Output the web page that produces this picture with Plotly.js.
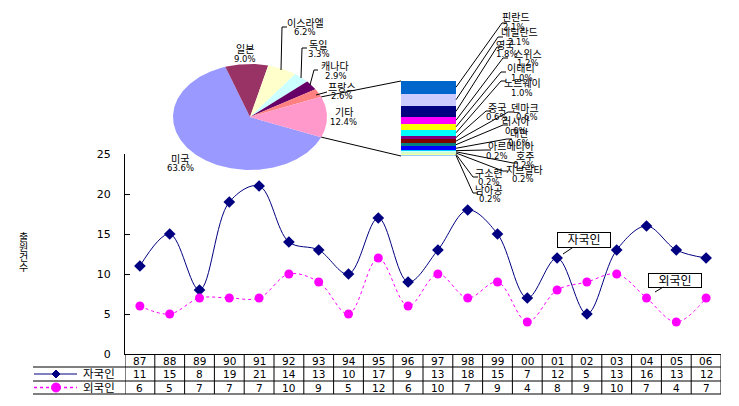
<!DOCTYPE html>
<html><head><meta charset="utf-8">
<script src="https://cdn.plot.ly/plotly-3.0.1.min.js"></script>
<style>html,body{margin:0;padding:0;background:#fff}#chart{width:739px;height:406px}</style>
</head><body><div id="chart"></div>
<script>
// ---- data ----
const years = ['87','88','89','90','91','92','93','94','95','96','97','98','99','00','01','02','03','04','05','06'];
const domestic = [11,15,8,19,21,14,13,10,17,9,13,18,15,7,12,5,13,16,13,12];
const foreign = [6,5,7,7,7,10,9,5,12,6,10,7,9,4,8,9,10,7,4,7];
const seriesNames = ['자국인','외국인'];
const yTitleChars = ['출','원','건','수'];

const pieLabels = ['미국','일본','이스라엘','독일','캐나다','프랑스','기타'];
const pieValues = [63.6,9.0,6.2,3.3,2.9,2.6,12.4];
const pieColors = ['#9999FF','#993366','#FFFFCC','#CCFFFF','#660066','#FF8080','#FF99CC'];

const barLabels = ['핀란드','네덜란드','영국','스위스','이태리','노르웨이','중국','덴마크','러시아','대만','아르메니아','호주','지브랄타','구소련','남아공'];
const barValues = [2.1,2.1,1.8,1.2,1.0,1.0,0.6,0.6,0.6,0.6,0.2,0.2,0.2,0.2,0.2];
const barColors = ['#0066CC','#CCCCFF','#000080','#FF00FF','#FFFF00','#00FFFF','#800080','#800000','#008080','#0000FF','#00CCFF','#CCFFFF','#CCFFCC','#FFFF99','#99CCFF'];

// ---- layout constants (pixels) ----
const W = 739, H = 406;
const px = x => x / W, py = y => 1 - y / H;
const FONT = 'DejaVu Sans, Noto Sans CJK KR, sans-serif';
const PIE = {cx: 250, cy: 117, rx: 77, ry: 53};
const BAR = {l: 401, r: 456, t: 81, b: 156};
const PLOT = {l: 125, r: 721, t: 154, b: 354};
const TABLE = {left: 33, rows: [354, 367, 381, 394]};

const pieLabelPos = [[180,159,180,168],[245,50,245,59],[305,23,305,32],[318,45,319,54],[335,67,336,76],[342,87,342,96],[344,113,343,122]];
const pieLeaders = [null,null,[[281,70],[282,27],[287,27]],[[301,78],[302,48],[307,48]],[[310,85],[314,70],[318,70]],[[316,95],[327,92]],null];
const barLabelPos = [
 [516,17,514,27,502,23],[519,33,519,42,498,37],[505,45,507,54,497,47],[528,54,528,63,503,58],
 [521,69,522,78,501,72],[522,84,522,93,501,81],[497,108,497,117,486,111],[525,108,527,117,508,112],
 [516,122,516,131,503,125],[519,134,519,143,507,139],[511,147,497,156,486,150],[525,156,524,165,513,163],
 [524,170,523,179,503,171],[489,173,489,182,473,177],[489,190,490,199,473,193]];

const traces = [];
const shapes = [];
const annotations = [];

function txt(x, y, text, size, opts) {
  annotations.push(Object.assign({xref:'paper', yref:'paper', x:px(x), y:py(y), text:text, showarrow:false,
    xanchor:'center', yanchor:'middle', font:{family:FONT, size:size, color:'#000'}}, opts||{}));
}
function line(x0,y0,x1,y1,color,width,dash){
  shapes.push({type:'line', xref:'paper', yref:'paper', x0:px(x0), y0:py(y0), x1:px(x1), y1:py(y1),
    line:{color:color||'#000', width:width||1, dash:dash||'solid'}});
}

// ---- pie (ellipse, drawn as filled polygons) ----
const pieTotal = pieValues.reduce((a,b)=>a+b,0);
const otherShare = pieValues[pieValues.length-1] / pieTotal;
let ang = -otherShare * 180; // degrees, start of first slice; goes clockwise
pieValues.forEach((v,i) => {
  const sweep = v / pieTotal * 360;
  const xs = [0], ys = [0];
  const n = Math.max(4, Math.ceil(sweep));
  for (let k=0; k<=n; k++) {
    const a = (ang - sweep * k / n) * Math.PI / 180;
    xs.push(Math.cos(a)); ys.push(Math.sin(a));
  }
  xs.push(0); ys.push(0);
  traces.push({type:'scatter', mode:'lines', x:xs, y:ys, xaxis:'x3', yaxis:'y3', fill:'toself',
    fillcolor:pieColors[i], line:{width:0, color:pieColors[i]}, hoverinfo:'skip', showlegend:false});
  ang -= sweep;
  const p = pieLabelPos[i];
  txt(p[0], p[1], pieLabels[i], 10);
  txt(p[2], p[3], v.toFixed(1)+'%', 8.5);
  if (pieLeaders[i]) {
    const pts = pieLeaders[i];
    let d = 'M ' + pts.map(q => px(q[0])+' '+py(q[1])).join(' L ');
    shapes.push({type:'path', xref:'paper', yref:'paper', path:d, line:{color:'#000', width:1}});
  }
});

// connectors from pie to bar
const oa = otherShare * Math.PI;
line(PIE.cx + PIE.rx*Math.cos(oa), PIE.cy - PIE.ry*Math.sin(oa), BAR.l, BAR.t, '#000', 1);
line(PIE.cx + PIE.rx*Math.cos(oa), PIE.cy + PIE.ry*Math.sin(oa), BAR.l, BAR.b, '#000', 1);

// ---- bar of pie ----
const barTotal = barValues.reduce((a,b)=>a+b,0);
let cum = 0;
barValues.forEach((v,i) => {
  traces.push({type:'bar', x:[0], y:[v], xaxis:'x4', yaxis:'y4', width:1,
    marker:{color:barColors[i], line:{width:0}}, hoverinfo:'skip', showlegend:false});
  const midY = BAR.t + (cum + v/2) / barTotal * (BAR.b - BAR.t);
  cum += v;
  const p = barLabelPos[i];
  const d = 'M ' + px(BAR.r) + ' ' + py(midY) + ' L ' + px(p[4]) + ' ' + py(p[5]) + ' L ' + px(p[4]+5) + ' ' + py(p[5]);
  shapes.push({type:'path', xref:'paper', yref:'paper', path:d, line:{color:'#000', width:1}});
  txt(p[0], p[1], barLabels[i], 10);
  txt(p[2], p[3], v.toFixed(1)+'%', 8.5);
});

// ---- line chart ----
traces.push({type:'scatter', mode:'lines+markers', name:seriesNames[0], x:years, y:domestic,
  line:{color:'#000080', width:1, shape:'spline', smoothing:1}, marker:{symbol:'diamond', size:9, color:'#000080'},
  hoverinfo:'skip', showlegend:false});
traces.push({type:'scatter', mode:'lines+markers', name:seriesNames[1], x:years, y:foreign,
  line:{color:'#FF00FF', width:1, dash:'dot', shape:'spline', smoothing:1}, marker:{symbol:'circle', size:9, color:'#FF00FF'},
  hoverinfo:'skip', showlegend:false});

// y title (stacked characters)
yTitleChars.forEach((ch,k) => txt(23, 237 + k*10.3, ch, 10));

// callouts
annotations.push({xref:'paper', yref:'paper', x:px(563), y:py(254), ax:21, ay:-14, text:seriesNames[0],
  showarrow:true, arrowhead:0, arrowwidth:1, arrowcolor:'#000', bordercolor:'#000', borderwidth:1, borderpad:1,
  bgcolor:'#fff', width:50, height:12, font:{family:FONT, size:12, color:'#000'}});
annotations.push({xref:'paper', yref:'paper', x:px(655), y:py(292), ax:20, ay:-12, text:seriesNames[1],
  showarrow:true, arrowhead:0, arrowwidth:1, arrowcolor:'#000', bordercolor:'#000', borderwidth:1, borderpad:1,
  bgcolor:'#fff', width:50, height:11, font:{family:FONT, size:12, color:'#000'}});

// ---- data table ----
const rowsY = TABLE.rows;
const rc = [(rowsY[0]+rowsY[1])/2, (rowsY[1]+rowsY[2])/2, (rowsY[2]+rowsY[3])/2];
for (let r=1; r<4; r++) line(TABLE.left, rowsY[r], PLOT.r, rowsY[r], '#000', 1);
for (let i=0; i<=years.length; i++) {
  shapes.push({type:'line', xref:'x', yref:'paper', x0:i-0.5, x1:i-0.5, y0:py(rowsY[0]), y1:py(rowsY[3]), line:{color:'#000', width:1}});
}
const cellFont = {family:FONT, size:10.5, color:'#000'};
years.forEach((yr,i) => {
  [yr, String(domestic[i]), String(foreign[i])].forEach((t,r) => {
    annotations.push({xref:'x', yref:'paper', x:i, y:py(rc[r]), text:t, showarrow:false,
      xanchor:'center', yanchor:'middle', font:cellFont});
  });
});
// legend keys
line(34, rc[1], 77, rc[1], '#000080', 1);
shapes.push({type:'path', xref:'paper', yref:'paper', fillcolor:'#000080', line:{color:'#000080', width:1},
  path:'M '+px(56)+' '+py(rc[1]-4)+' L '+px(60)+' '+py(rc[1])+' L '+px(56)+' '+py(rc[1]+4)+' L '+px(52)+' '+py(rc[1])+' Z'});
line(34, rc[2], 77, rc[2], '#FF00FF', 1.5, 'dot');
shapes.push({type:'circle', xref:'paper', yref:'paper', x0:px(51.5), x1:px(60.5), y0:py(rc[2]-4.5), y1:py(rc[2]+4.5),
  fillcolor:'#FF00FF', line:{color:'#FF00FF', width:1}});
txt(99, rc[1], seriesNames[0], 11.5);
txt(99, rc[2], seriesNames[1], 11.5);

const hidden = {visible:false, fixedrange:true, showgrid:false, zeroline:false};
const layout = {
  width:W, height:H, margin:{l:0, r:0, t:0, b:0}, paper_bgcolor:'#fff', plot_bgcolor:'rgba(0,0,0,0)',
  showlegend:false, barmode:'stack', bargap:0,
  font:{family:FONT, size:11, color:'#000'},
  xaxis:{domain:[px(PLOT.l), px(PLOT.r)], type:'category', range:[-0.5, years.length-0.5], showline:true, linecolor:'#000', linewidth:1,
    showticklabels:false, ticks:'', showgrid:false, zeroline:false, fixedrange:true, anchor:'y'},
  yaxis:{domain:[py(PLOT.b), py(PLOT.t)], range:[0,25], dtick:5, tick0:0, ticks:'inside', ticklen:5, tickcolor:'#000',
    showline:true, linecolor:'#000', linewidth:1, showgrid:false, zeroline:false, fixedrange:true, anchor:'x',
    ticklabelstandoff:11, tickfont:{family:FONT, size:11, color:'#000'}},
  xaxis3:Object.assign({domain:[px(PIE.cx-PIE.rx), px(PIE.cx+PIE.rx)], range:[-1,1], anchor:'y3'}, hidden),
  yaxis3:Object.assign({domain:[py(PIE.cy+PIE.ry), py(PIE.cy-PIE.ry)], range:[-1,1], anchor:'x3'}, hidden),
  xaxis4:Object.assign({domain:[px(BAR.l), px(BAR.r)], range:[-0.5,0.5], anchor:'y4'}, hidden),
  yaxis4:Object.assign({domain:[py(BAR.b), py(BAR.t)], range:[barTotal, 0], anchor:'x4'}, hidden),
  shapes:shapes, annotations:annotations
};
Plotly.newPlot('chart', traces, layout, {staticPlot:true, displayModeBar:false});
</script></body></html>
